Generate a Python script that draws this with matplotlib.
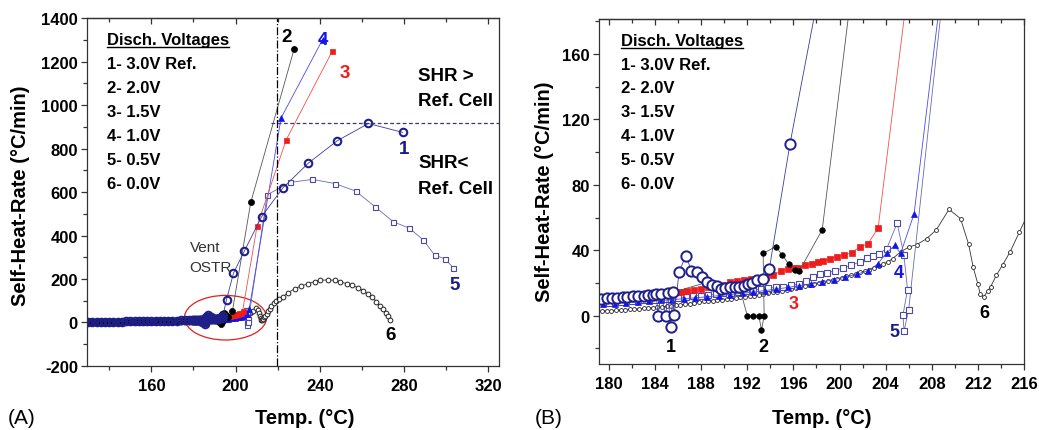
import matplotlib
matplotlib.use("Agg")
import matplotlib.pyplot as plt
from matplotlib.patches import Ellipse
from matplotlib.ticker import MultipleLocator

plt.rcParams['font.family'] = ['Liberation Sans', 'DejaVu Sans']
plt.rcParams['font.weight'] = 'bold'
plt.rcParams['axes.unicode_minus'] = False

# ---- data: temperature (C) / self-heat-rate (C/min) ----
low_t = [130, 132, 134, 136, 138, 140, 142, 144, 146, 148, 150, 152, 154,
         156, 158, 160, 162, 164, 166, 168, 170, 172, 174, 176, 178]

# 1- 3.0V Ref.
t1 = low_t + [179.3, 179.8, 180.3, 180.7, 181.2, 181.6, 182.1, 182.5, 183.0, 183.4,
              183.8, 184.1, 184.25, 184.5, 184.92, 185.1, 185.36, 185.55, 185.64,
              186.08, 186.66, 187.15, 187.64, 188.1, 188.5, 188.97, 189.4, 189.75,
              190.1, 190.5, 190.9, 191.3, 191.7, 192.05, 192.4, 192.8, 193.4, 193.9,
              195.7, 199.0, 204.2, 212.4, 222.4, 234.6, 248.2, 263.1, 279.4]
v1 = [2.1, 2.3, 2.6, 2.8, 3.2, 3.4, 3.8, 4.0, 4.4, 4.7, 5.0, 5.4, 5.6, 6.0, 6.3,
      6.7, 7.0, 7.4, 7.7, 8.2, 8.5, 9.0, 9.3, 9.7, 10.0,
      10.2, 10.5, 10.7, 10.9, 11.1, 11.4, 11.7, 12.0, 12.3, 12.6,
      12.9, 13.0, 0.0, 13.3, 0.0, 13.8, -6.9, 14.3, 0.3,
      26.5, 36.7, 27.5, 26.5, 23.4, 20.4, 18.7, 17.9, 16.3,
      17.0, 17.4, 17.6, 17.8, 18.2, 19.3, 20.0, 21.6, 22.6, 28.3,
      105, 227, 329, 487, 618, 733, 835, 915, 874]

# 2- 2.0V
t2 = low_t + [180.3, 181.6, 183.0, 184.5, 185.55, 188.5, 189.4, 190.5, 191.3,
              192.0, 192.5, 193.0, 193.23, 193.46, 193.37, 194.47, 195.05, 195.6,
              196.1, 196.5, 198.5, 207.2, 227.8]
v2 = [0.8, 1.0, 1.1, 1.3, 1.5, 1.6, 1.9, 2.1, 2.3, 2.6, 2.8, 3.1, 3.4, 3.7, 4.0,
      4.3, 4.7, 5.0, 5.4, 5.8, 6.2, 6.6, 7.0, 7.5, 8.0,
      10.7, 11.4, 12.3, 13.3, 14.3, 20.4, 17.9, 17.4, 17.8,
      0.0, 0.0, 0.0, -8.8, 0.0, 38.1, 42.2, 36.9, 31.4, 27.7, 27.1, 52.6, 552, 1257]

# 3- 1.5V
t3 = low_t + [179.5, 180.5, 181.5, 182.5, 183.5, 184.5, 185.5, 186.28, 186.8, 187.4,
              188.0, 188.6, 189.2, 189.8, 190.5, 191.1, 191.7, 192.3, 192.9, 193.6,
              194.24, 194.96, 195.5, 195.97, 196.4, 196.99, 197.57, 198.14, 198.58,
              199.16, 199.74, 200.37, 201.04, 201.76, 202.48, 203.35, 210.2, 224.0,
              245.9]
v3 = [1.5, 1.7, 1.9, 2.1, 2.4, 2.6, 2.9, 3.2, 3.5, 3.8, 4.2, 4.5, 4.9, 5.3, 5.7,
      6.1, 6.5, 7.0, 7.4, 7.9, 8.4, 8.9, 9.3, 9.8, 10.2,
      10.5, 11.0, 11.5, 12.0, 12.5, 13.0, 13.8, 14.5, 15.0, 15.6,
      16.5, 17.3, 18.2, 19.0, 20.6, 21.0, 21.6, 22.2, 22.8, 23.8,
      24.6, 27.5, 28.3, 29.1, 29.1, 30.8, 31.8, 32.8, 33.2,
      34.8, 35.9, 36.9, 38.5, 42.0, 44.0, 53.6, 443, 839, 1247]

# 4- 1.0V
t4 = low_t + [179.5, 180.5, 181.5, 182.5, 183.5, 184.5, 185.5, 186.5, 187.5, 188.5,
              189.5, 190.5, 191.5, 192.5, 193.5, 194.5, 195.5, 196.5, 197.5, 198.5,
              199.5, 200.5, 201.5, 202.5, 203.3, 204.1, 204.8, 205.3, 206.47, 221.6,
              241.3]
v4 = [1.0, 1.2, 1.3, 1.5, 1.7, 1.9, 2.1, 2.3, 2.6, 2.8, 3.1, 3.3, 3.6, 3.9, 4.2,
      4.5, 4.8, 5.1, 5.4, 5.7, 6.0, 6.2, 6.5, 6.7, 6.9,
      7.0, 7.4, 7.9, 8.3, 8.8, 9.3, 9.8, 10.3, 10.9, 11.5,
      12.2, 12.9, 13.6, 14.4, 15.3, 16.2, 17.2, 18.3, 19.4, 20.6,
      22.0, 23.6, 25.3, 27.5, 31.5, 38.5, 43.0, 38.0, 62.3, 940, 1300]

# 5- 0.5V
t5 = low_t + [180.0, 181.0, 182.0, 183.0, 184.0, 185.0, 186.0, 186.7, 187.3, 188.0,
              188.6, 189.3, 189.9, 190.6, 191.2, 191.9, 192.5, 193.2, 193.8, 194.5,
              195.1, 195.8, 196.5, 197.1, 197.7, 198.3, 198.9, 199.6, 200.3, 201.0,
              201.76, 202.4, 202.9, 203.4, 204.1, 205.0, 205.58, 205.9, 205.5, 205.6,
              206.0, 215.0, 225.9, 236.5, 247.1, 257.1, 266.3, 274.9, 282.5, 289.1,
              294.5, 299.4, 303.5]
v5 = [1.2, 1.4, 1.6, 1.8, 2.0, 2.2, 2.5, 2.7, 3.0, 3.2, 3.5, 3.8, 4.1, 4.4, 4.7,
      5.0, 5.3, 5.7, 6.0, 6.3, 6.6, 6.9, 7.2, 7.4, 7.7,
      8.0, 8.5, 9.0, 9.4, 9.8, 10.3, 10.8, 11.3, 12.0, 12.3,
      12.8, 13.2, 13.6, 14.0, 14.6, 15.0, 15.6, 16.2, 16.8, 17.2,
      17.8, 18.5, 19.5, 21.0, 23.5, 25.5, 26.0, 27.5, 29.1, 30.8,
      32.8, 35.2, 36.2, 37.9, 41.0, 56.6, 37.3, 15.9, 0.2, -9.4,
      3.7, 587, 644, 658, 639, 604, 532, 463, 434, 380,
      311, 292, 251]

# 6- 0.0V
t6 = low_t + [179.4, 179.8, 180.2, 180.6, 181.0, 181.4, 181.8, 182.2, 182.6, 183.0,
              183.4, 183.8, 184.2, 184.6, 185.0, 185.4, 185.8, 186.2, 186.6, 187.0,
              187.4, 187.8, 188.2, 188.6, 189.0, 189.4, 189.8, 190.2, 190.6, 191.0,
              191.4, 191.8, 192.2, 192.6, 193.0, 193.4, 193.8, 194.2, 194.6, 195.0,
              195.4, 195.8, 196.2, 196.6, 197.0, 197.4, 197.8, 198.2, 198.6, 199.0,
              199.4, 199.8, 200.2, 200.6, 201.0, 201.4, 201.8, 202.2, 202.6, 203.0,
              203.4, 203.8, 204.2, 204.6, 205.3, 206.04, 206.7, 207.55, 208.4, 209.5,
              210.5, 211.2, 211.6, 212.0, 212.2, 212.5, 212.85, 213.1, 213.6, 214.15,
              214.8, 215.6, 216.2, 217.0, 218.2, 219.4, 220.8, 222.3, 225.0, 228.1,
              231.3, 234.5, 237.6, 240.3, 244.0, 247.1, 249.8, 252.7, 255.5, 258.2,
              260.6, 263.0, 265.0, 266.9, 268.5, 270.1, 271.4, 272.5, 273.3]
v6 = [0.3, 0.4, 0.5, 0.5, 0.6, 0.7, 0.8, 0.8, 0.9, 1.0, 1.1, 1.2, 1.3, 1.4, 1.5,
      1.6, 1.7, 1.8, 1.9, 2.0, 2.1, 2.3, 2.4, 2.5, 2.6,
      2.8, 3.0, 3.1, 3.3, 3.5, 3.7, 3.8, 4.0, 4.2, 4.4,
      4.6, 4.9, 5.1, 5.4, 5.7, 6.0, 6.3, 6.7, 7.0, 7.4,
      7.8, 8.3, 8.7, 9.0, 9.2, 9.5, 9.8, 10.1, 10.4, 10.8,
      11.2, 11.5, 11.9, 12.3, 12.8, 13.3, 13.8, 14.2, 14.7, 15.2,
      15.8, 16.4, 17.0, 17.6, 18.2, 18.7, 19.3, 19.9, 20.6, 21.2,
      21.9, 22.5, 23.2, 24.0, 24.8, 25.6, 26.4, 27.3, 28.2, 29.2,
      30.3, 31.5, 33.0, 34.8, 39.0, 42.0, 43.4, 47.0, 52.5, 65.0,
      59.3, 43.6, 29.5, 19.4, 13.4, 11.4, 14.9, 17.5, 24.6, 31.0,
      39.0, 51.0, 60.0, 76.0, 88.0, 99.0, 108.0, 117.0, 137.0, 156.0,
      168.0, 179.0, 188.0, 194.0, 196.0, 194.0, 187.0, 179.0, 171.0, 160.0,
      147.0, 130.0, 115.0, 95.0, 76.0, 61.0, 45.0, 30.0, 12.0]

legend_title = 'Disch. Voltages'
legend_lines = ['1- 3.0V Ref.', '2- 2.0V', '3- 1.5V', '4- 1.0V', '5- 0.5V', '6- 0.0V']
ref_peak = 915
vent_temp = 219.5

# ---- styles (drawn bottom to top: 6,5,4,3,2,1); per panel: (size, face, edge width) ----
series = [
    dict(t=t6, v=v6, marker='o', mec='#222222', lc='#333333',
         A=(3.4, 'white', 0.7), B=(2.8, 'white', 0.6)),
    dict(t=t5, v=v5, marker='s', mec='#4a4aa2', lc='#6a6ab8',
         A=(3.6, 'white', 0.8), B=(4.0, 'white', 0.8)),
    dict(t=t4, v=v4, marker='^', mec='#1414e6', lc='#4a4af0',
         A=(4.2, '#1414e6', 0.5), B=(4.2, '#1414e6', 0.5)),
    dict(t=t3, v=v3, marker='s', mec='#ee1c1c', lc='#f05050',
         A=(3.6, '#ee1c1c', 0.5), B=(3.8, '#ee1c1c', 0.5)),
    dict(t=t2, v=v2, marker='o', mec='black', lc='#555555',
         A=(4.4, 'black', 0.5), B=(4.0, 'black', 0.5)),
    dict(t=t1, v=v1, marker='o', mec='#1f1f8a', lc='#3c3c9a',
         A=(5.4, 'none', 1.5), B=(7.4, 'white', 1.4)),
]

fig = plt.figure(figsize=(10.39, 4.31), dpi=100)
axA = fig.add_axes([0.0837, 0.1485, 0.3965, 0.8074])
axB = fig.add_axes([0.5765, 0.1531, 0.409, 0.8005])

for ax, key in [(axA, 'A'), (axB, 'B')]:
    for s in series:
        ms, mfc, mew = s[key]
        ax.plot(s['t'], s['v'], color=s['lc'], lw=0.6, marker=s['marker'],
                ms=ms, mec=s['mec'], mfc=mfc, mew=mew)


def style(ax, xlim, ylim, xmaj, xmin, ymaj, ymin):
    ax.set_xlim(*xlim)
    ax.set_ylim(*ylim)
    ax.xaxis.set_major_locator(MultipleLocator(xmaj))
    ax.xaxis.set_minor_locator(MultipleLocator(xmin))
    ax.yaxis.set_major_locator(MultipleLocator(ymaj))
    ax.yaxis.set_minor_locator(MultipleLocator(ymin))
    ax.tick_params(which='both', direction='out', top=False, right=False,
                   labelsize=12, width=0.9, color='#333333')
    ax.tick_params(which='major', length=4.5)
    ax.tick_params(which='minor', length=3)
    ax.tick_params(axis='x', pad=4)
    ax.tick_params(axis='y', pad=2)
    for sp in ax.spines.values():
        sp.set_linewidth(0.9)
        sp.set_color('#333333')
    top = ax.secondary_xaxis('top')
    top.xaxis.set_major_locator(MultipleLocator(xmaj))
    top.xaxis.set_minor_locator(MultipleLocator(xmin))
    top.tick_params(which='both', direction='in', labeltop=False, width=0.9, color='#333333')
    top.tick_params(which='major', length=4.5)
    top.tick_params(which='minor', length=3)
    top.spines['top'].set_linewidth(0.9)
    top.spines['top'].set_color('#333333')


style(axA, (129.4, 325.1), (-200, 1400), 40, 20, 200, 100)
style(axB, (179.13, 216.0), (-29.6, 181.4), 4, 2, 40, 20)

# panel A extras
axA.axvline(vent_temp, color='black', lw=0.9, ls='-.')
axA.hlines(ref_peak, 217, 325.1, colors='#3a3a6a', lw=0.9, linestyles=(0, (3, 2)))
axA.add_patch(Ellipse((195.2, 22), 39, 205, fill=False, ec='#e02020', lw=0.9))
axA.text(178.1, 346, 'Vent', fontsize=11, fontweight='normal', color='#333333', va='center')
axA.text(178.1, 254, 'OSTR', fontsize=11, fontweight='normal', color='#333333', va='center')
for txt, y in [('SHR >', 1135), ('Ref. Cell', 1020), ('SHR<', 736), ('Ref. Cell', 614)]:
    axA.text(286.8, y, txt, fontsize=13.5, va='center')

lab_kw = dict(fontsize=13.5, ha='center', va='center')
axA.text(224.4, 1316, '2', color='black', **lab_kw)
axA.text(241.3, 1300, '4', color='#1414e6', **lab_kw)
axA.text(251.9, 1150, '3', color='#ee1c1c', **lab_kw)
axA.text(280.0, 798, '1', color='#1c1c8c', **lab_kw)
axA.text(304.3, 177, '5', color='#1c1c8c', **lab_kw)
axA.text(273.7, -55, '6', color='black', **lab_kw)

lab_kw['fontsize'] = 13
axB.text(185.33, -19.1, '1', color='black', **lab_kw)
axB.text(193.37, -19.1, '2', color='black', **lab_kw)
axB.text(196.03, 7.3, '3', color='#ee1c1c', **lab_kw)
axB.text(205.15, 26.3, '4', color='#1414e6', **lab_kw)
axB.text(204.8, -10.0, '5', color='#1c1c8c', **lab_kw)
axB.text(212.6, 1.8, '6', color='black', **lab_kw)

# legend-like text blocks with underlined title
line_y = [0.855, 0.787, 0.7175, 0.6486, 0.5796, 0.5106]
titles = []
for ax, x0 in [(axA, 0.0485), (axB, 0.0518)]:
    t = ax.text(x0, 0.926, legend_title, transform=ax.transAxes, fontsize=12, va='baseline')
    titles.append((ax, t))
    for txt, y in zip(legend_lines, line_y):
        ax.text(x0, y, txt, transform=ax.transAxes, fontsize=12, va='baseline')

fig.canvas.draw()
for ax, t in titles:
    bb = t.get_window_extent().transformed(ax.transAxes.inverted())
    yb = 0.926 - 3.0 / (ax.bbox.height)
    ax.plot([bb.x0, bb.x1], [yb, yb], transform=ax.transAxes, color='black', lw=1.0,
            clip_on=False)

# axis labels
fig.text(0.0199, 0.545, 'Self-Heat-Rate (°C/min)', rotation=90, fontsize=14.5,
         ha='center', va='center')
fig.text(0.5245, 0.5545, 'Self-Heat-Rate (°C/min)', rotation=90, fontsize=14.5,
         ha='center', va='center')
fig.text(0.2936, 0.030, 'Temp. (°C)', fontsize=14.5, ha='center', va='center')
fig.text(0.791, 0.030, 'Temp. (°C)', fontsize=14.5, ha='center', va='center')
fig.text(0.0209, 0.030, '(A)', fontsize=15, fontweight='normal', ha='center', va='center')
fig.text(0.5284, 0.030, '(B)', fontsize=15, fontweight='normal', ha='center', va='center')

fig.savefig('out.png', dpi=100)
